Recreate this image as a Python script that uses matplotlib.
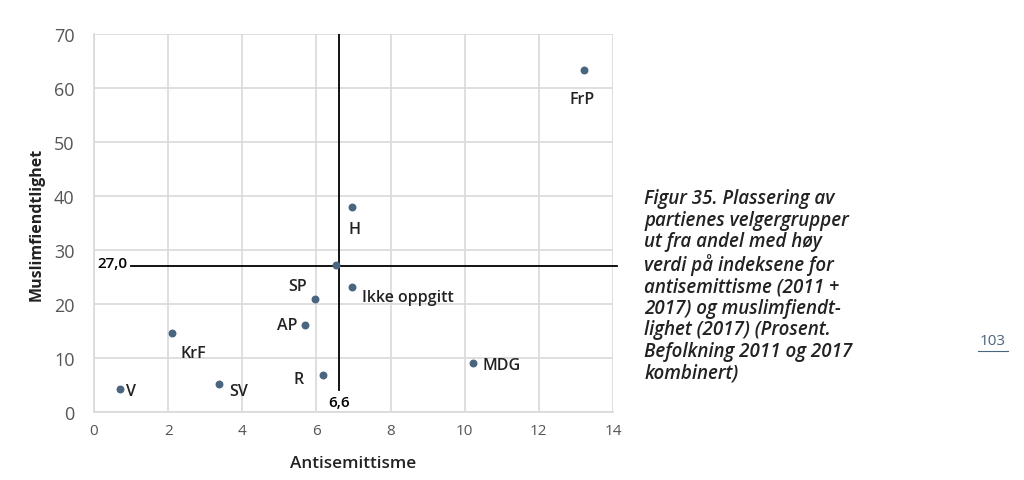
import matplotlib.pyplot as plt

plt.rcParams['font.family'] = ['Open Sans', 'DejaVu Sans']

# data
parties = ['FrP', 'H', 'Ikke oppgitt', 'SP', 'AP', 'KrF', 'MDG', 'R', 'V', 'SV', '']
antisem = [13.22, 6.96, 6.96, 5.96, 5.69, 2.10, 10.22, 6.18, 0.70, 3.37, 6.53]
muslim = [63.3, 38.0, 23.1, 20.9, 16.1, 14.6, 9.1, 6.9, 4.3, 5.2, 27.2]

mean_x = 6.6
mean_y = 27.0

# label offsets in pixels (dx, dy, ha, va)
offsets = {
    'FrP': (-2, -21, 'center', 'top'),
    'H': (2, -14, 'center', 'top'),
    'Ikke oppgitt': (10, -10, 'left', 'center'),
    'SP': (-8, 13, 'right', 'center'),
    'AP': (-8, 0, 'right', 'center'),
    'KrF': (9, -20, 'left', 'center'),
    'MDG': (10, -2, 'left', 'center'),
    'R': (-19, -4, 'right', 'center'),
    'V': (6, -2, 'left', 'center'),
    'SV': (10, -7, 'left', 'center'),
}

fig = plt.figure(figsize=(10.24, 4.81), dpi=100)
ax = fig.add_axes([0.0918, 0.1414, 0.5068, 0.7856])

ax.set_xlim(0, 14)
ax.set_ylim(0, 70)
ax.set_xticks(range(0, 15, 2))
ax.set_yticks(range(0, 71, 10))
ax.grid(True, color='#d9d9d9', linewidth=1.2)
ax.set_axisbelow(True)
for s in ['top', 'right']:
    ax.spines[s].set_visible(False)
for s in ['left', 'bottom']:
    ax.spines[s].set_color('#d9d9d9')
    ax.spines[s].set_linewidth(1.2)
ax.tick_params(length=0, colors='#555555')
ax.tick_params(axis='y', labelsize=13, pad=14)
ax.tick_params(axis='x', labelsize=11, pad=8)

# reference lines
ax.plot([mean_x, mean_x], [4, 70], color='black', linewidth=1.3, zorder=2)
ax.plot([1.0, 14.1], [mean_y, mean_y], color='black', linewidth=1.3, zorder=2, clip_on=False)
ax.text(0.1, mean_y + 0.6, '27,0', fontsize=11, fontweight='semibold', ha='left', va='center')
ax.text(mean_x, 1.9, '6,6', fontsize=11, fontweight='semibold', ha='center', va='center')

ax.scatter(antisem, muslim, s=22, color='#4a6580', zorder=3)

for name, x, y in zip(parties, antisem, muslim):
    if not name:
        continue
    dx, dy, ha, va = offsets[name]
    ax.annotate(name, (x, y), xytext=(dx, dy), textcoords='offset pixels',
                ha=ha, va=va, fontsize=11.5, fontweight='semibold', color='#222222')

ax.set_xlabel('Antisemittisme', fontsize=12.3, fontweight='semibold', labelpad=12, color='#222222')
ax.set_ylabel('Muslimfiendtlighet', fontsize=11.5, fontweight='bold', labelpad=7, color='#222222')

caption = ('Figur 35. Plassering av\npartienes velgergrupper\nut fra andel med høy\n'
           'verdi på indeksene for\nantisemittisme (2011 +\n2017) og muslimfiendt-\n'
           'lighet (2017) (Prosent.\nBefolkning 2011 og 2017\nkombinert)')
fig.text(0.629, 0.405, caption, fontsize=13.5, fontstyle='italic', fontweight='semibold',
         ha='left', va='center', linespacing=1.1, color='#222222')
fig.text(0.9695, 0.29, '103', fontsize=11, ha='center', va='center', color='#4a6580')
fig.add_artist(plt.Line2D([0.955, 0.984], [0.268, 0.268], color='#4a6580', linewidth=0.8))

fig.savefig('out.png', dpi=100)
